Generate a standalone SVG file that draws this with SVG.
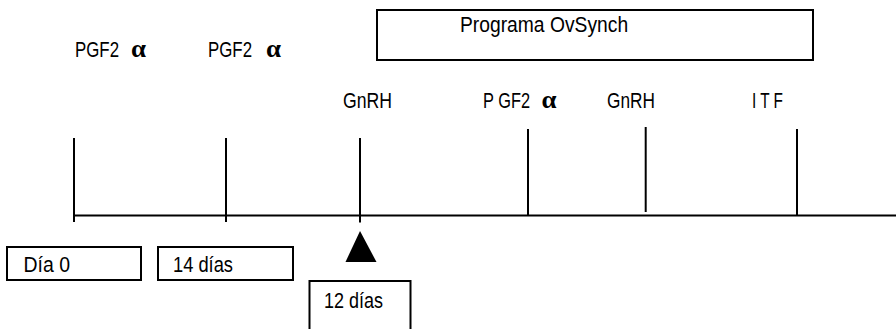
<svg xmlns="http://www.w3.org/2000/svg" width="896" height="329" viewBox="0 0 896 329">
<style>
.t{font-family:"Liberation Sans",Arial,sans-serif;font-size:22px;fill:#000}
.a{font-family:"Liberation Serif","Times New Roman",serif;font-weight:bold;font-size:25px;fill:#000}
.box{fill:#fff;stroke:#000;stroke-width:2}
.ln{stroke:#000;stroke-width:2;fill:none}
</style>
<rect width="896" height="329" fill="#fff"/>
<g id="connectors">
<line class="ln" x1="74" y1="215.5" x2="896" y2="215.5"/>
<line class="ln" x1="74" y1="138" x2="74" y2="222"/>
<line class="ln" x1="226" y1="138" x2="226" y2="222"/>
<line class="ln" x1="360" y1="138" x2="360" y2="222.5"/>
<line class="ln" x1="528" y1="129" x2="528" y2="215"/>
<line class="ln" x1="645.7" y1="127" x2="645.7" y2="212"/>
<line class="ln" x1="797" y1="129" x2="797" y2="215"/>
</g>
<g id="marker-triangle"><polygon points="360,231 345.5,262 376.5,262" fill="#000"/></g>
<g id="ovsynch">
<rect class="box" x="377" y="10" width="436" height="50"/>
<text class="t" transform="translate(460 32) scale(0.82 1)" textLength="205" lengthAdjust="spacingAndGlyphs">Programa OvSynch</text>
</g>
<g id="pgf2a-1">
<text class="t" transform="translate(75 56.7) scale(0.82 1)" textLength="53.7" lengthAdjust="spacingAndGlyphs">PGF2</text>
<text class="a" x="131" y="56.7" textLength="15" lengthAdjust="spacingAndGlyphs">α</text>
</g>
<g id="pgf2a-2">
<text class="t" transform="translate(208 56.7) scale(0.82 1)" textLength="53.7" lengthAdjust="spacingAndGlyphs">PGF2</text>
<text class="a" x="266" y="56.7" textLength="15" lengthAdjust="spacingAndGlyphs">α</text>
</g>
<g id="gnrh-1"><text class="t" transform="translate(343 107.6) scale(0.82 1)" textLength="59.8" lengthAdjust="spacingAndGlyphs">GnRH</text></g>
<g id="pgf2a-3">
<text class="t" transform="translate(483 108) scale(0.82 1)" textLength="57.3" lengthAdjust="spacingAndGlyphs">P GF2</text>
<text class="a" x="541.5" y="108" textLength="15" lengthAdjust="spacingAndGlyphs">α</text>
</g>
<g id="gnrh-2"><text class="t" transform="translate(607 107.6) scale(0.82 1)" textLength="58.5" lengthAdjust="spacingAndGlyphs">GnRH</text></g>
<g id="itf"><text class="t" transform="translate(752 107.6) scale(0.82 1)" textLength="37.8" lengthAdjust="spacingAndGlyphs">I T F</text></g>
<g id="dia0">
<rect class="box" x="7" y="247" width="134" height="33"/>
<text class="t" transform="translate(23.5 271.7) scale(0.82 1)" textLength="56.7" lengthAdjust="spacingAndGlyphs">Día 0</text>
</g>
<g id="dias14">
<rect class="box" x="158" y="247" width="135" height="33"/>
<text class="t" transform="translate(173 271.7) scale(0.82 1)" textLength="73.2" lengthAdjust="spacingAndGlyphs">14 días</text>
</g>
<g id="dias12">
<rect class="box" x="309.5" y="281" width="101" height="60"/>
<text class="t" transform="translate(324 308.3) scale(0.82 1)" textLength="72" lengthAdjust="spacingAndGlyphs">12 días</text>
</g>
</svg>
